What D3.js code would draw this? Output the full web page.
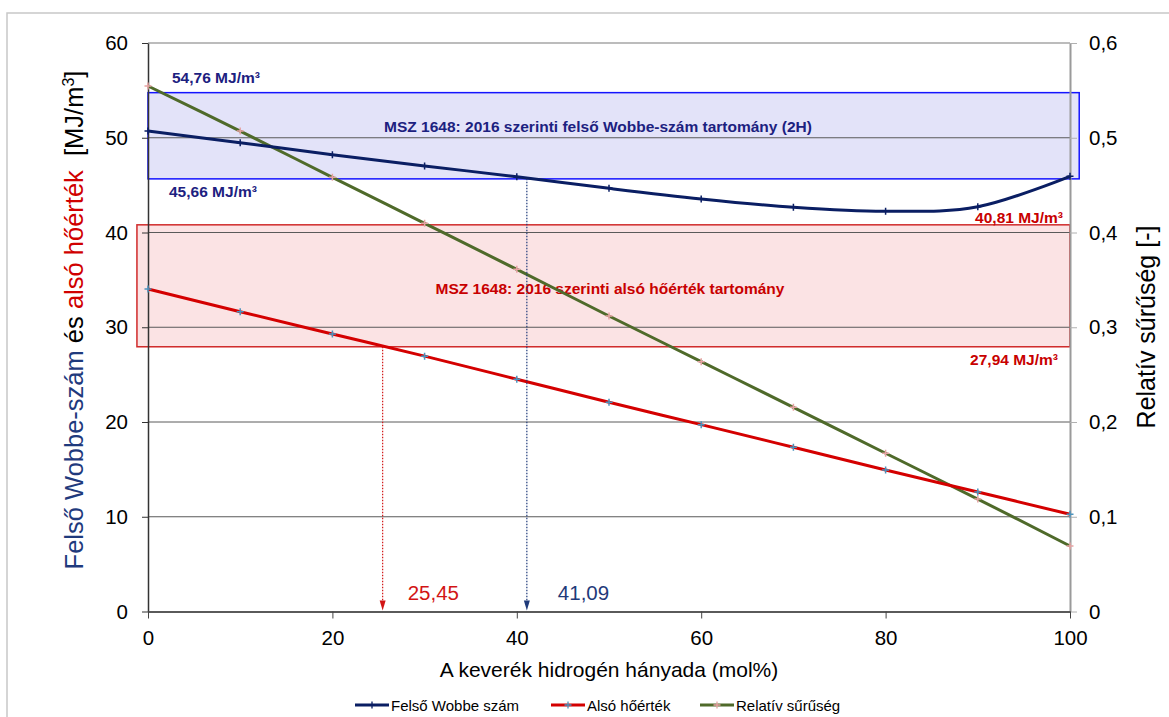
<!DOCTYPE html>
<html lang="hu">
<head>
<meta charset="utf-8">
<script src="https://cdn.jsdelivr.net/npm/d3@7"></script>
<style>
  html, body { margin: 0; padding: 0; background: #fff; }
  svg { display: block; font-family: Arial, "Liberation Sans", sans-serif; }
</style>
</head>
<body>
<svg id="chart" width="1169" height="717"></svg>
<script>
// Hydrogen share of the blend (mol%)
const hydrogenShare = [0, 10, 20, 30, 40, 50, 60, 70, 80, 90, 100];
// Upper Wobbe index (MJ/m3)
const upperWobbe = [50.71, 49.48, 48.21, 47.02, 45.89, 44.66, 43.54, 42.66, 42.24, 42.72, 45.93];
// Lower heating value (MJ/m3)
const lowerHeating = [34.04, 31.64, 29.29, 26.95, 24.52, 22.08, 19.72, 17.33, 14.93, 12.61, 10.26];
// Relative density (-)
const relDensity = [0.5546, 0.507, 0.4582, 0.4097, 0.3611, 0.3119, 0.2637, 0.2155, 0.167, 0.1187, 0.0691];

// MSZ 1648:2016 permitted ranges (MJ/m3)
const wobbeRange = [45.66, 54.76];
const heatingRange = [27.94, 40.81];
// Hydrogen shares where the curves leave the ranges (mol%)
const heatingLimitShare = 25.45;
const wobbeLimitShare = 41.09;

// Tick values
const xTicks = [0, 20, 40, 60, 80, 100];
const yLeftTicks = [0, 10, 20, 30, 40, 50, 60];
const yRightTicks = [0, 0.1, 0.2, 0.3, 0.4, 0.5, 0.6];

const seriesNames = ["Felső Wobbe szám", "Alsó hőérték", "Relatív sűrűség"];

// ---- layout & styles ----
const plot = { left: 148, right: 1070, top: 43, bottom: 611.5 };
const wobbeBoxX = [0, 101];
const heatingBoxX = [-1.2, 100];
const NAVY = "#0a1e63", RED = "#d40000", GREEN = "#4f6a2a";
const LABEL_NAVY = "#1c2180", LABEL_RED = "#c80000";

const svg = d3.select("#chart");
const fmtComma = d => String(d).replace(".", ",");

const x = d3.scaleLinear().domain([0, 100]).range([plot.left, plot.right]);
const yL = d3.scaleLinear().domain([0, 60]).range([plot.bottom, plot.top]);
const yR = d3.scaleLinear().domain([0, 0.6]).range([plot.bottom, plot.top]);

// outer chart frame
svg.append("rect")
  .attr("x", 7).attr("y", 13).attr("width", 1300).attr("height", 900)
  .attr("fill", "none").attr("stroke", "#c8c8c8").attr("stroke-width", 1.5);

// range boxes
svg.append("rect")
  .attr("x", x(wobbeBoxX[0])).attr("y", yL(wobbeRange[1]))
  .attr("width", x(wobbeBoxX[1]) - x(wobbeBoxX[0]))
  .attr("height", yL(wobbeRange[0]) - yL(wobbeRange[1]))
  .attr("fill", "#e3e3f9").attr("stroke", "#1414ff").attr("stroke-width", 1.5);
svg.append("rect")
  .attr("x", x(heatingBoxX[0])).attr("y", yL(heatingRange[1]))
  .attr("width", x(heatingBoxX[1]) - x(heatingBoxX[0]))
  .attr("height", yL(heatingRange[0]) - yL(heatingRange[1]))
  .attr("fill", "#fbe3e4").attr("stroke", "#d02a2a").attr("stroke-width", 1.5);

// horizontal gridlines
svg.append("g").selectAll("line")
  .data(yLeftTicks.filter(v => v > 0))
  .join("line")
  .attr("x1", plot.left).attr("x2", plot.right)
  .attr("y1", d => yL(d)).attr("y2", d => yL(d))
  .attr("stroke", d => d === 60 ? "#a6a6a6" : "#5a5a5a")
  .attr("stroke-width", d => d === 60 ? 1.5 : 1);

// range labels
const lbl = (txt, px, py, color, anchor) => svg.append("text")
  .attr("x", px).attr("y", py).attr("fill", color)
  .attr("font-size", 15.5).attr("font-weight", "bold")
  .attr("text-anchor", anchor || "start").text(txt);

lbl("MSZ 1648: 2016 szerinti felső Wobbe-szám tartomány (2H)", 598, 131.5, LABEL_NAVY, "middle");
lbl("MSZ 1648: 2016 szerinti alsó hőérték tartomány", 610, 294, LABEL_RED, "middle");
lbl(fmtComma(wobbeRange[1]) + " MJ/m³", 172, yL(wobbeRange[1]) - 9.5, LABEL_NAVY);
lbl(fmtComma(wobbeRange[0]) + " MJ/m³", 169, yL(wobbeRange[0]) + 18.5, LABEL_NAVY);
lbl(fmtComma(heatingRange[1]) + " MJ/m³", 1063, yL(heatingRange[1]) - 1.5, LABEL_RED, "end");
lbl(fmtComma(heatingRange[0]) + " MJ/m³", 1058, yL(heatingRange[0]) + 18, LABEL_RED, "end");

// axes
const styleAxis = (g, color, width) => {
  g.select(".domain").attr("stroke", color).attr("stroke-width", width);
  g.selectAll(".tick line").attr("stroke", color).attr("stroke-width", 1);
  g.selectAll(".tick text").attr("fill", "#000").attr("font-size", 20.5)
    .attr("font-family", "Arial, 'Liberation Sans', sans-serif");
};

svg.append("g").attr("transform", `translate(${plot.left},0)`)
  .call(d3.axisLeft(yL).tickValues(yLeftTicks).tickSize(6).tickSizeOuter(0).tickPadding(14))
  .call(g => styleAxis(g, "#333", 1.5));

svg.append("g").attr("transform", `translate(${plot.right},0)`)
  .call(d3.axisRight(yR).tickValues(yRightTicks).tickFormat(fmtComma)
    .tickSize(7).tickSizeOuter(0).tickPadding(12))
  .call(g => styleAxis(g, "#9a9a9a", 2))
  .call(g => g.selectAll(".tick line").attr("stroke", "#b0b0b0"));

svg.append("g").attr("transform", `translate(0,${plot.bottom})`)
  .call(d3.axisBottom(x).tickValues(xTicks).tickSize(7).tickSizeOuter(0).tickPadding(12))
  .call(g => styleAxis(g, "#5a5a5a", 2))
  .call(g => g.selectAll(".tick line").attr("stroke", "#444"));

// series
const rowsL = (vals) => hydrogenShare.map((h, i) => [x(h), yL(vals[i])]);
const rowsR = (vals) => hydrogenShare.map((h, i) => [x(h), yR(vals[i])]);
const smooth = d3.line().curve(d3.curveCardinal.tension(0));

const series = [
  { pts: rowsL(upperWobbe), color: NAVY, marker: NAVY },
  { pts: rowsL(lowerHeating), color: RED, marker: "#4b93bd" },
  { pts: rowsR(relDensity), color: GREEN, marker: "#e6a3a3" }
];

// order: density underneath, then heating value, then Wobbe
[series[2], series[1], series[0]].forEach(s => {
  svg.append("path").attr("d", smooth(s.pts))
    .attr("fill", "none").attr("stroke", s.color).attr("stroke-width", 3)
    .attr("stroke-linejoin", "round");
});

const plusPath = (cx, cy, r) => `M${cx - r},${cy}H${cx + r}M${cx},${cy - r}V${cy + r}`;
[series[2], series[1], series[0]].forEach(s => {
  svg.append("g").selectAll("path").data(s.pts).join("path")
    .attr("d", d => plusPath(d[0], d[1], 3.5))
    .attr("stroke", s.marker).attr("stroke-width", 1.5).attr("fill", "none");
});

// limit arrows
const arrow = (share, fromVal, color, labelDx) => {
  const ax = x(share);
  svg.append("line")
    .attr("x1", ax).attr("x2", ax)
    .attr("y1", yL(fromVal)).attr("y2", plot.bottom - 8)
    .attr("stroke", color).attr("stroke-width", 1.2)
    .attr("stroke-dasharray", "1.5,1.5");
  svg.append("path")
    .attr("d", `M${ax - 3},${plot.bottom - 11}L${ax + 3},${plot.bottom - 11}L${ax},${plot.bottom - 1}Z`)
    .attr("fill", color);
  svg.append("text")
    .attr("x", ax + labelDx).attr("y", 600)
    .attr("fill", color).attr("font-size", 20.5)
    .text(fmtComma(share));
};
arrow(heatingLimitShare, heatingRange[0], "#d21414", 25);
arrow(wobbeLimitShare, wobbeRange[0], "#1f3a7a", 31);

// axis titles
svg.append("text")
  .attr("x", 609).attr("y", 677).attr("text-anchor", "middle")
  .attr("font-size", 21).attr("fill", "#000")
  .text("A keverék hidrogén hányada (mol%)");

const leftTitle = svg.append("text")
  .attr("transform", "translate(83,320) rotate(-90)")
  .attr("text-anchor", "middle").attr("font-size", 25.5)
  .attr("xml:space", "preserve");
leftTitle.append("tspan").attr("fill", "#1f3a7d").text("Felső Wobbe-szám ");
leftTitle.append("tspan").attr("fill", "#000").text("és ");
leftTitle.append("tspan").attr("fill", "#d00000").text("alsó hőérték");
leftTitle.append("tspan").attr("fill", "#000").text("  [MJ/m");
leftTitle.append("tspan").attr("fill", "#000").attr("font-size", 16).attr("dy", -9).text("3");
leftTitle.append("tspan").attr("fill", "#000").attr("dy", 9).text("]");

svg.append("text")
  .attr("transform", "translate(1155,327) rotate(-90)")
  .attr("text-anchor", "middle").attr("font-size", 25).attr("fill", "#000")
  .text("Relatív sűrűség [-]");

// legend
const legendX = [355, 551, 700];
const legendColors = [[NAVY, NAVY], [RED, "#4b93bd"], [GREEN, "#e6a3a3"]];
const legend = svg.append("g");
seriesNames.forEach((name, i) => {
  const lx = legendX[i], ly = 705;
  legend.append("line").attr("x1", lx).attr("x2", lx + 34).attr("y1", ly).attr("y2", ly)
    .attr("stroke", legendColors[i][0]).attr("stroke-width", 3);
  legend.append("path").attr("d", plusPath(lx + 17, ly, 3.5))
    .attr("stroke", legendColors[i][1]).attr("stroke-width", 1.3);
  legend.append("text").attr("x", lx + 36).attr("y", ly + 5.5)
    .attr("font-size", 15).attr("fill", "#000").text(name);
});
</script>
</body>
</html>
